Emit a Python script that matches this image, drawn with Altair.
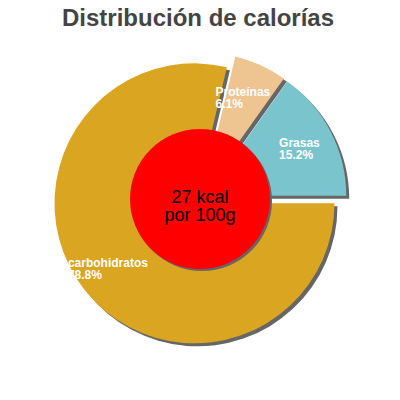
import altair as alt
import pandas as pd

# ---- data ----
labels = ["carbohidratos", "Proteínas", "Grasas"]
values = [78.8, 6.1, 15.2]
colors = ["#DAA520", "#EEC591", "#7AC5CD"]
title_text = "Distribución de calorías"
center_lines = ["27 kcal", "por 100g"]

# ---- layout / style ----
W = H = 384
CX, CY = 192, 191
R = 140
EXPLODE = 7
SHADOW = 3
LABEL_R = 112
HOLE_R = 70
FONT = "Liberation Sans"

df = pd.DataFrame({"label": labels, "value": values, "order": list(range(len(labels)))})

base = (
    alt.Chart(df)
    .transform_window(cum="sum(value)", sort=[alt.SortField("order")], frame=[None, 0])
    .transform_joinaggregate(total="sum(value)")
    .transform_calculate(t0="PI/2 + 2*PI*(datum.cum - datum.value)/datum.total")
    .transform_calculate(t1="PI/2 + 2*PI*datum.cum/datum.total")
    .transform_calculate(mid="(datum.t0 + datum.t1)/2")
    .transform_calculate(cx=f"{CX} + {EXPLODE}*sin(datum.mid)")
    .transform_calculate(cy=f"{CY} - {EXPLODE}*cos(datum.mid)")
    .transform_calculate(sx=f"datum.cx + {SHADOW}")
    .transform_calculate(sy=f"datum.cy + {SHADOW}")
    .transform_calculate(lx=f"{CX} + {LABEL_R}*sin(datum.mid) - length(datum.label)*3.4")
    .transform_calculate(ly1=f"{CY} - {LABEL_R}*cos(datum.mid) - 1")
    .transform_calculate(ly2=f"{CY} - {LABEL_R}*cos(datum.mid) + 11")
    .transform_calculate(pct="format(datum.value, '.1f') + '%'")
)

theta_enc = dict(
    theta=alt.Theta("t0:Q", scale=None, stack=None),
    theta2="t1:Q",
)

shadows = base.mark_arc(radius=R, color="#666666").encode(
    x=alt.X("sx:Q", scale=None), y=alt.Y("sy:Q", scale=None), **theta_enc
)

slices = base.mark_arc(radius=R).encode(
    x=alt.X("cx:Q", scale=None),
    y=alt.Y("cy:Q", scale=None),
    color=alt.Color("label:N", scale=alt.Scale(domain=labels, range=colors), legend=None),
    **theta_enc,
)

label_style = dict(align="left", baseline="alphabetic", fontSize=12, fontWeight="bold", color="white", font=FONT)
lab1 = base.mark_text(**label_style).encode(
    x=alt.X("lx:Q", scale=None), y=alt.Y("ly1:Q", scale=None), text="label:N"
)
lab2 = base.mark_text(**label_style).encode(
    x=alt.X("lx:Q", scale=None), y=alt.Y("ly2:Q", scale=None), text="pct:N"
)

one = pd.DataFrame({"k": [0]})
hole_shadow = alt.Chart(one).mark_arc(radius=HOLE_R, theta=0, theta2=6.2832, color="#666666").encode(
    x=alt.value(CX + 2), y=alt.value(CY + 2)
)
hole = alt.Chart(one).mark_arc(radius=HOLE_R, theta=0, theta2=6.2832, color="#FF0000").encode(
    x=alt.value(CX), y=alt.value(CY)
)
center_text = alt.Chart(one).mark_text(
    text=center_lines, fontSize=18, lineHeight=18, baseline="middle", align="center", color="black", font=FONT
).encode(x=alt.value(CX), y=alt.value(CY - 1))

title = alt.Chart(one).mark_text(
    text=title_text, fontSize=24, fontWeight="bold", color="#444444", font=FONT, align="center", baseline="alphabetic"
).encode(x=alt.value(190), y=alt.value(18))

chart = (
    alt.layer(shadows, slices, lab1, lab2, hole_shadow, hole, center_text, title)
    .properties(width=W, height=H, padding=0, autosize=alt.AutoSizeParams(type="none"))
    .configure_view(stroke=None)
)

chart.save("out.html", embed_options={"renderer": "svg", "actions": False})
